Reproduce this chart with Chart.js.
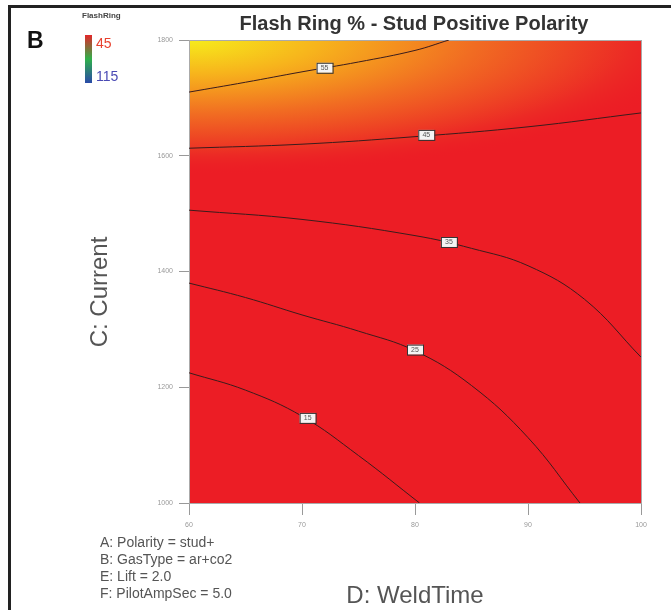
<!DOCTYPE html>
<html>
<head>
<meta charset="utf-8">
<script src="https://cdn.jsdelivr.net/npm/chart.js@4"></script>
<style>
  html, body { margin: 0; padding: 0; background: #fff; }
  #wrap { width: 671px; height: 610px; }
</style>
</head>
<body>
<div id="wrap"><canvas id="myChart" width="671" height="610"></canvas></div>
<script>
// contour levels (top to bottom)
const contourLevels = ['55', '45', '35', '25', '15'];

// contour lines: weld time (x) and current (y)
const c1Time = [60, 65, 70, 75, 80, 83];
const c1Current = [1710, 1727, 1745, 1762, 1782, 1800];
const c2Time = [60, 70, 80, 90, 100];
const c2Current = [1613, 1620, 1633, 1650, 1674];
const c3Time = [60, 70, 80, 85, 90, 95, 100];
const c3Current = [1506, 1490, 1462, 1440, 1410, 1352, 1252];
const c4Time = [60, 65, 70, 75, 80, 85, 90, 94.6];
const c4Current = [1380, 1355, 1325, 1297, 1263, 1203, 1113, 1000];
const c5Time = [60, 65, 70, 75, 80.4];
const c5Current = [1225, 1195, 1150, 1082, 1000];

// where the level labels sit
const labelTime = [72, 81, 83, 80, 70.5];
const labelCurrent = [1752, 1636, 1451, 1265, 1147];

const xTicks = [60, 70, 80, 90, 100];
const yTicks = [1000, 1200, 1400, 1600, 1800];

const footNotes = ['A: Polarity = stud+', 'B: GasType = ar+co2', 'E: Lift = 2.0', 'F: PilotAmpSec = 5.0'];

function pts(xs, ys) {
  return xs.map(function (x, i) { return { x: x, y: ys[i] }; });
}

const lines = [[c1Time, c1Current], [c2Time, c2Current], [c3Time, c3Current], [c4Time, c4Current], [c5Time, c5Current]];

const datasets = lines.map(function (l, i) {
  return {
    label: contourLevels[i],
    data: pts(l[0], l[1]),
    borderColor: '#3b1c1c',
    borderWidth: 1,
    pointRadius: 0,
    tension: 0.4,
    fill: false
  };
});

// the coloured response surface behind the contours
const surface = {
  id: 'surface',
  beforeDatasetsDraw(chart) {
    const a = chart.chartArea, c = chart.ctx;
    c.save();
    c.fillStyle = '#ec1d25';
    c.fillRect(a.left, a.top, a.width, a.height);
    c.beginPath();
    c.rect(a.left, a.top, a.width, a.height);
    c.clip();
    const rx = 520, ry = 135;
    c.translate(a.left, a.top);
    c.scale(rx / ry, 1);
    const g = c.createRadialGradient(0, 0, 0, 0, 0, ry);
    g.addColorStop(0, '#f6ec1b');
    g.addColorStop(0.25, '#f7b41c');
    g.addColorStop(0.55, '#f16c22');
    g.addColorStop(0.85, '#ec2b25');
    g.addColorStop(1, 'rgba(236,29,37,0)');
    c.fillStyle = g;
    c.fillRect(0, 0, rx * 2, ry * 2);
    c.restore();
    c.save();
    c.strokeStyle = '#aaa';
    c.lineWidth = 1;
    c.strokeRect(a.left + 0.5, a.top + 0.5, a.width, a.height);
    c.restore();
  },
  afterDatasetsDraw(chart) {
    const c = chart.ctx;
    const xs = chart.scales.x, ys = chart.scales.y;
    c.save();
    c.font = '7px "Liberation Sans"';
    c.textAlign = 'center';
    c.textBaseline = 'middle';
    labelTime.forEach(function (t, i) {
      const px = xs.getPixelForValue(t), py = ys.getPixelForValue(labelCurrent[i]);
      c.fillStyle = '#f4f4f4';
      c.fillRect(px - 8, py - 5, 16, 10);
      c.strokeStyle = '#333';
      c.lineWidth = 1;
      c.strokeRect(px - 8 + 0.5, py - 5 + 0.5, 16, 10);
      c.fillStyle = '#555';
      c.fillText(contourLevels[i], px, py + 0.5);
    });
    c.restore();
  }
};

// frame, panel letter, legend, titles and notes
const decor = {
  id: 'decor',
  afterDraw(chart) {
    const c = chart.ctx, a = chart.chartArea;
    c.save();
    c.strokeStyle = '#222';
    c.lineWidth = 3;
    c.beginPath();
    c.moveTo(9.5, 700);
    c.lineTo(9.5, 6.5);
    c.lineTo(700, 6.5);
    c.stroke();

    c.fillStyle = '#111';
    c.font = 'bold 23px "Liberation Sans"';
    c.textAlign = 'left';
    c.textBaseline = 'middle';
    c.fillText('B', 27, 42);

    c.fillStyle = '#333';
    c.font = 'bold 20px "Liberation Sans"';
    c.textAlign = 'center';
    c.fillText('Flash Ring % - Stud Positive Polarity', 414, 24);

    c.font = 'bold 8px "Liberation Sans"';
    c.textAlign = 'left';
    c.fillStyle = '#444';
    c.fillText('FlashRing', 82, 16);
    const g = c.createLinearGradient(0, 35, 0, 83);
    g.addColorStop(0, '#e3262a');
    g.addColorStop(0.5, '#2fb04a');
    g.addColorStop(1, '#2a4aa8');
    c.fillStyle = g;
    c.fillRect(85, 35, 7, 48);
    c.font = '14px "Liberation Sans"';
    c.fillStyle = '#e8412e';
    c.fillText('45', 96, 44);
    c.fillStyle = '#4a4ab4';
    c.fillText('115', 96, 77);

    c.fillStyle = '#555';
    c.font = '24px "Liberation Sans"';
    c.textAlign = 'center';
    c.fillText('D: WeldTime', (a.left + a.right) / 2, 596);
    c.translate(100, 292);
    c.rotate(-Math.PI / 2);
    c.fillText('C: Current', 0, 0);
    c.setTransform(1, 0, 0, 1, 0, 0);

    c.font = '14px "Liberation Sans"';
    c.textAlign = 'left';
    c.fillStyle = '#555';
    footNotes.forEach(function (t, i) {
      c.fillText(t, 100, 543 + i * 17);
    });
    c.restore();
  }
};

new Chart(document.getElementById('myChart'), {
  type: 'line',
  data: { datasets: datasets },
  options: {
    responsive: false,
    animation: false,
    layout: { padding: { left: 149, right: 30, top: 40, bottom: 77 } },
    plugins: { legend: { display: false }, tooltip: { enabled: false }, title: { display: false } },
    scales: {
      x: {
        type: 'linear', min: 60, max: 100,
        afterBuildTicks: function (s) { s.ticks = xTicks.map(function (v) { return { value: v }; }); },
        afterFit: function (s) { s.height = 30; },
        grid: { drawOnChartArea: false, drawTicks: true, tickLength: 12, color: '#999' },
        border: { display: false },
        ticks: { font: { size: 7, family: 'Liberation Sans' }, color: '#999', padding: 6,
          callback: function (v) { return String(v); } }
      },
      y: {
        type: 'linear', min: 1000, max: 1800,
        afterBuildTicks: function (s) { s.ticks = yTicks.map(function (v) { return { value: v }; }); },
        afterFit: function (s) { s.width = 40; },
        grid: { drawOnChartArea: false, drawTicks: true, tickLength: 10, color: '#999' },
        border: { display: false },
        ticks: { font: { size: 7, family: 'Liberation Sans' }, color: '#999', padding: 6,
          callback: function (v) { return String(v); } }
      }
    }
  },
  plugins: [surface, decor]
});
</script>
</body>
</html>
